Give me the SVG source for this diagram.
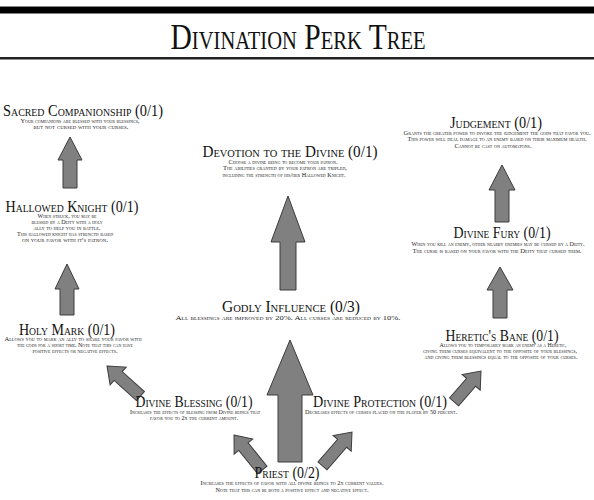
<svg xmlns="http://www.w3.org/2000/svg" width="594" height="500" viewBox="0 0 594 500">
<style>
.t{font-family:"Liberation Serif",serif;font-variant:small-caps;font-size:16px;text-anchor:middle;fill:#111}
.d{font-family:"Liberation Serif",serif;font-variant:small-caps;font-size:6.2px;text-anchor:middle;fill:#222}
.h{font-family:"Liberation Serif",serif;font-variant:small-caps;font-size:36px;text-anchor:middle;fill:#111}
.a{fill:#808080;stroke:#3c3c3c;stroke-width:1;stroke-linejoin:miter}
</style>
<rect width="594" height="500" fill="#fff"/>
<g id="header">
<rect x="0" y="6" width="594" height="1" fill="#888"/>
<rect x="0" y="7" width="594" height="6.5" fill="#000"/>
<text class="h" x="298" y="49" textLength="255" lengthAdjust="spacingAndGlyphs">Divination Perk Tree</text>
<rect x="0" y="57" width="594" height="2.5" fill="#222"/>
</g>
<g id="connectors">
<polygon class="a" points="70,137 82,160 77,160 77,188 63,188 63,160 58,160"/>
<polygon class="a" points="67,264 79,289 74,289 74,315 60,315 60,289 55,289"/>
<polygon class="a" points="288,196 305,242 296,242 296,290 280,290 280,242 271,242"/>
<polygon class="a" points="290,340 313,395 302,395 302,462 278,462 278,395 267,395"/>
<polygon class="a" points="502,165 515,190 509,190 509,222 495,222 495,190 489,190"/>
<polygon class="a" points="500,267 513,290 507,290 507,318 493,318 493,290 487,290"/>
<polygon class="a" transform="translate(107,366) rotate(-48)" points="0,0 12,15 6,15 6,45 -6,45 -6,15 -12,15"/>
<polygon class="a" transform="translate(234,435) rotate(-39)" points="0,0 12,15 6,15 6,45 -6,45 -6,15 -12,15"/>
<polygon class="a" transform="translate(352,432) rotate(41)" points="0,0 12,15 6,15 6,45 -6,45 -6,15 -12,15"/>
<polygon class="a" transform="translate(481,371) rotate(41)" points="0,0 12,15 6,15 6,41 -6,41 -6,15 -12,15"/>
</g>
<g id="sacred-companionship">
<text class="t" x="83" y="116" textLength="160" lengthAdjust="spacingAndGlyphs">Sacred Companionship (0/1)</text>
<text class="d" x="80" y="123" textLength="119" lengthAdjust="spacingAndGlyphs">Your companions are blessed with your blessings,</text>
<text class="d" x="81" y="129" textLength="95" lengthAdjust="spacingAndGlyphs">but not cursed with your curses.</text>
</g>
<g id="hallowed-knight">
<text class="t" x="72" y="212" textLength="133" lengthAdjust="spacingAndGlyphs">Hallowed Knight (0/1)</text>
<text class="d" x="67" y="218" textLength="59" lengthAdjust="spacingAndGlyphs">When struck, you may be</text>
<text class="d" x="67" y="224" textLength="71" lengthAdjust="spacingAndGlyphs">blessed by a Deity with a holy</text>
<text class="d" x="67" y="230" textLength="67" lengthAdjust="spacingAndGlyphs">ally to help you in battle.</text>
<text class="d" x="65" y="236" textLength="96" lengthAdjust="spacingAndGlyphs">This hallowed knight has strength based</text>
<text class="d" x="65" y="242" textLength="86" lengthAdjust="spacingAndGlyphs">on your favor with it's patron.</text>
</g>
<g id="holy-mark">
<text class="t" x="67" y="335" textLength="96" lengthAdjust="spacingAndGlyphs">Holy Mark (0/1)</text>
<text class="d" x="73" y="341" textLength="137" lengthAdjust="spacingAndGlyphs">Allows you to mark an ally to share your favor with</text>
<text class="d" x="75" y="347" textLength="116" lengthAdjust="spacingAndGlyphs">the gods for a short time. Note that this can have</text>
<text class="d" x="75" y="353" textLength="85" lengthAdjust="spacingAndGlyphs">positive effects or negative effects.</text>
</g>
<g id="devotion-to-the-divine">
<text class="t" x="290" y="157" textLength="175" lengthAdjust="spacingAndGlyphs">Devotion to the Divine (0/1)</text>
<text class="d" x="283" y="164" textLength="109" lengthAdjust="spacingAndGlyphs">Choose a divine being to become your patron.</text>
<text class="d" x="285" y="170" textLength="124" lengthAdjust="spacingAndGlyphs">The abilities granted by your patron are tripled,</text>
<text class="d" x="284" y="177" textLength="123" lengthAdjust="spacingAndGlyphs">including the strength of his/her Hallowed Knight.</text>
</g>
<g id="judgement">
<text class="t" x="496" y="128" textLength="92" lengthAdjust="spacingAndGlyphs">Judgement (0/1)</text>
<text class="d" x="497" y="135" textLength="187" lengthAdjust="spacingAndGlyphs">Grants the greater power to invoke the judgement the gods that favor you.</text>
<text class="d" x="497" y="141" textLength="179" lengthAdjust="spacingAndGlyphs">This power will deal damage to an enemy based on their maximum health.</text>
<text class="d" x="493" y="148" textLength="77" lengthAdjust="spacingAndGlyphs">Cannot be cast on automatons.</text>
</g>
<g id="divine-fury">
<text class="t" x="502" y="238" textLength="97" lengthAdjust="spacingAndGlyphs">Divine Fury (0/1)</text>
<text class="d" x="498" y="246" textLength="173" lengthAdjust="spacingAndGlyphs">When you kill an enemy, other nearby enemies may be cursed by a Deity.</text>
<text class="d" x="497" y="253" textLength="169" lengthAdjust="spacingAndGlyphs">The curse is based  on your favor with the Deity that cursed them.</text>
</g>
<g id="heretics-bane">
<text class="t" x="502" y="341" textLength="113" lengthAdjust="spacingAndGlyphs">Heretic's Bane (0/1)</text>
<text class="d" x="503" y="347" textLength="127" lengthAdjust="spacingAndGlyphs">Allows you to temporarily mark an enemy as a Heretic,</text>
<text class="d" x="500" y="353" textLength="154" lengthAdjust="spacingAndGlyphs">giving them curses equivalent to the opposite of your blessings,</text>
<text class="d" x="501" y="359" textLength="153" lengthAdjust="spacingAndGlyphs">and giving them blessings equal to the opposite of your curses.</text>
</g>
<g id="godly-influence">
<text class="t" x="291" y="312" textLength="138" lengthAdjust="spacingAndGlyphs">Godly Influence (0/3)</text>
<text class="d" x="288" y="320" textLength="225" lengthAdjust="spacingAndGlyphs">All blessings are improved by 20%. All curses are reduced by 10%.</text>
</g>
<g id="divine-blessing">
<text class="t" x="194" y="407" textLength="117" lengthAdjust="spacingAndGlyphs">Divine Blessing (0/1)</text>
<text class="d" x="195" y="414" textLength="130" lengthAdjust="spacingAndGlyphs">Increases the effects of blessing from Divine beings that</text>
<text class="d" x="194" y="420" textLength="88" lengthAdjust="spacingAndGlyphs">favor you to 2x the current amount.</text>
</g>
<g id="divine-protection">
<text class="t" x="380" y="407" textLength="134" lengthAdjust="spacingAndGlyphs">Divine Protection (0/1)</text>
<text class="d" x="381" y="414" textLength="152" lengthAdjust="spacingAndGlyphs">Decreases effects of curses placed on the player by 50 percent.</text>
</g>
<g id="priest">
<text class="t" x="287" y="478" textLength="65" lengthAdjust="spacingAndGlyphs">Priest (0/2)</text>
<text class="d" x="292" y="485" textLength="183" lengthAdjust="spacingAndGlyphs">Increases the effects of favor with all divine beings to 2x current values.</text>
<text class="d" x="292" y="492" textLength="153" lengthAdjust="spacingAndGlyphs">Note that this can be both a positive effect and negative effect.</text>
</g>
</svg>
